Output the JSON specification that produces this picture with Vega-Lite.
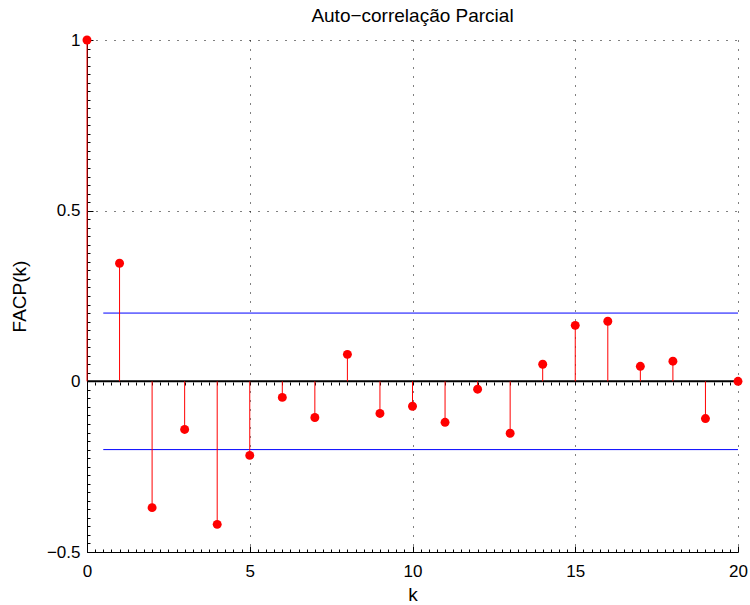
{
  "$schema": "https://vega.github.io/schema/vega-lite/v6.json",
  "autosize": "none",
  "width": 651,
  "height": 512,
  "padding": {"left": 87, "top": 40, "right": 12, "bottom": 53},
  "background": "white",
  "title": {
    "text": "Auto−correlação Parcial",
    "font": "Liberation Sans",
    "fontSize": 19,
    "fontWeight": "normal",
    "color": "black",
    "offset": 5
  },
  "config": {
    "view": {"stroke": null},
    "axis": {
      "labelFont": "Liberation Sans",
      "titleFont": "Liberation Sans",
      "labelFontSize": 17,
      "titleFontSize": 19,
      "titleFontWeight": "normal",
      "labelColor": "black",
      "titleColor": "black",
      "domainColor": "black",
      "domainWidth": 1,
      "tickColor": "black",
      "gridColor": "black",
      "gridDash": [1, 8],
      "gridWidth": 1
    }
  },
  "resolve": {"axis": {"x": "independent"}},
  "datasets": {
    "facp": [
      {"k": 0, "r": 1.0},
      {"k": 1, "r": 0.346},
      {"k": 2, "r": -0.370},
      {"k": 3, "r": -0.141},
      {"k": 4, "r": -0.419},
      {"k": 5, "r": -0.217},
      {"k": 6, "r": -0.047},
      {"k": 7, "r": -0.106},
      {"k": 8, "r": 0.079},
      {"k": 9, "r": -0.094},
      {"k": 10, "r": -0.073},
      {"k": 11, "r": -0.120},
      {"k": 12, "r": -0.023},
      {"k": 13, "r": -0.152},
      {"k": 14, "r": 0.050},
      {"k": 15, "r": 0.164},
      {"k": 16, "r": 0.176},
      {"k": 17, "r": 0.044},
      {"k": 18, "r": 0.059},
      {"k": 19, "r": -0.109},
      {"k": 20, "r": 0.0}
    ],
    "limits": [
      {"k0": 0.5, "k1": 20, "lim": 0.2},
      {"k0": 0.5, "k1": 20, "lim": -0.2}
    ],
    "baseline": [
      {"k0": 0, "k1": 20, "r": 0}
    ]
  },
  "layer": [
    {
      "data": {"name": "baseline"},
      "mark": {"type": "rule", "color": "black", "strokeWidth": 2},
      "encoding": {
        "x": {
          "field": "k0",
          "type": "quantitative",
          "scale": {"domain": [0, 20], "nice": false, "zero": false},
          "axis": {
            "title": "k",
            "titlePadding": 3,
            "format": "~g",
            "values": [0,0.25,0.5,0.75,1,1.25,1.5,1.75,2,2.25,2.5,2.75,3,3.25,3.5,3.75,4,4.25,4.5,4.75,5,5.25,5.5,5.75,6,6.25,6.5,6.75,7,7.25,7.5,7.75,8,8.25,8.5,8.75,9,9.25,9.5,9.75,10,10.25,10.5,10.75,11,11.25,11.5,11.75,12,12.25,12.5,12.75,13,13.25,13.5,13.75,14,14.25,14.5,14.75,15,15.25,15.5,15.75,16,16.25,16.5,16.75,17,17.25,17.5,17.75,18,18.25,18.5,18.75,19,19.25,19.5,19.75,20],
            "tickCount": 500,
            "labelExpr": "datum.value % 5 === 0 ? datum.label : ''",
            "labelPadding": 17,
            "labelFlush": false,
            "labelOverlap": false,
            "grid": true,
            "gridOpacity": {"condition": {"test": "datum.value % 5 === 0", "value": 1}, "value": 0},
            "tickSize": {"condition": {"test": "datum.value % 5 === 0", "value": -6}, "value": -3}
          }
        },
        "x2": {"field": "k1"},
        "y": {
          "field": "r",
          "type": "quantitative",
          "scale": {"domain": [-0.5, 1], "nice": false, "zero": false},
          "axis": {
            "title": "FACP(k)",
            "titlePadding": 17,
            "format": "~g",
            "values": [-0.5,-0.475,-0.45,-0.425,-0.4,-0.375,-0.35,-0.325,-0.3,-0.275,-0.25,-0.225,-0.2,-0.175,-0.15,-0.125,-0.1,-0.075,-0.05,-0.025,0,0.025,0.05,0.075,0.1,0.125,0.15,0.175,0.2,0.225,0.25,0.275,0.3,0.325,0.35,0.375,0.4,0.425,0.45,0.475,0.5,0.525,0.55,0.575,0.6,0.625,0.65,0.675,0.7,0.725,0.75,0.775,0.8,0.825,0.85,0.875,0.9,0.925,0.95,0.975,1],
            "tickCount": 500,
            "labelExpr": "abs(datum.value * 2 - round(datum.value * 2)) < 1e-6 ? datum.label : ''",
            "labelPadding": 13,
            "labelFlush": false,
            "labelOverlap": false,
            "grid": true,
            "gridOpacity": {"condition": {"test": "abs(datum.value * 2 - round(datum.value * 2)) < 1e-6", "value": 1}, "value": 0},
            "tickSize": {"condition": {"test": "abs(datum.value * 2 - round(datum.value * 2)) < 1e-6", "value": -6}, "value": -3}
          }
        }
      }
    },
    {
      "data": {"name": "limits"},
      "mark": {"type": "rule", "color": "#0000ff", "strokeWidth": 1},
      "encoding": {
        "x": {
          "field": "k0",
          "type": "quantitative",
          "axis": {
            "orient": "top",
            "offset": -342,
            "title": null,
            "labels": false,
            "domain": false,
            "grid": false,
            "values": [0,0.25,0.5,0.75,1,1.25,1.5,1.75,2,2.25,2.5,2.75,3,3.25,3.5,3.75,4,4.25,4.5,4.75,5,5.25,5.5,5.75,6,6.25,6.5,6.75,7,7.25,7.5,7.75,8,8.25,8.5,8.75,9,9.25,9.5,9.75,10,10.25,10.5,10.75,11,11.25,11.5,11.75,12,12.25,12.5,12.75,13,13.25,13.5,13.75,14,14.25,14.5,14.75,15,15.25,15.5,15.75,16,16.25,16.5,16.75,17,17.25,17.5,17.75,18,18.25,18.5,18.75,19,19.25,19.5,19.75,20],
            "tickCount": 500,
            "tickSize": -3
          }
        },
        "x2": {"field": "k1"},
        "y": {"field": "lim", "type": "quantitative"}
      }
    },
    {
      "data": {"name": "facp"},
      "mark": {"type": "rule", "color": "#ff0000", "strokeWidth": 1},
      "encoding": {
        "x": {"field": "k", "type": "quantitative", "axis": null},
        "y": {"field": "r", "type": "quantitative"},
        "y2": {"datum": 0}
      }
    },
    {
      "data": {"name": "facp"},
      "mark": {"type": "point", "filled": true, "shape": "circle", "color": "#ff0000", "opacity": 1, "size": 80, "clip": false},
      "encoding": {
        "x": {"field": "k", "type": "quantitative", "axis": null},
        "y": {"field": "r", "type": "quantitative"}
      }
    }
  ]
}
